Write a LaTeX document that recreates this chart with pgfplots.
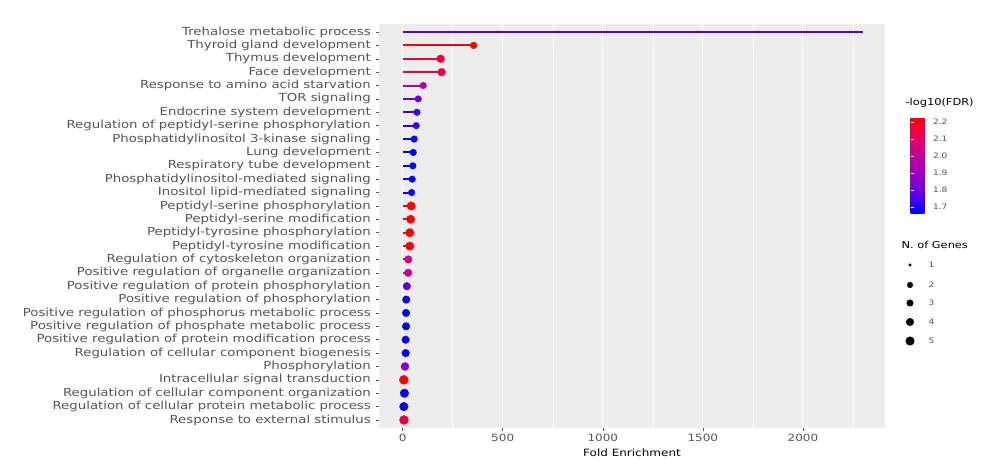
\documentclass[border=0pt]{standalone}
\usepackage{fontspec}
\setmainfont{DejaVu Sans}[FakeStretch=1.2]
\usepackage{pgfplots}
\usepackage{pgfplotstable}
\pgfplotsset{compat=1.18}
\definecolor{g30}{RGB}{85,85,85}
\definecolor{panelbg}{RGB}{237,237,237}
\pgfplotsset{colormap={br}{rgb255=(0,0,255) rgb255=(115,0,225) rgb255=(175,0,175) rgb255=(225,0,110) rgb255=(255,0,0)}}
\pgfplotstableread{
y x c n r
0 2295 1.76 1 1.0
1 355 2.22 2 3.4
2 190 2.15 3 3.9
3 195 2.15 3 3.9
4 103 1.95 2 3.3
5 78 1.80 2 3.3
6 72 1.74 2 3.3
7 68 1.73 2 3.3
8 58 1.68 2 3.3
9 53 1.67 2 3.3
10 51 1.67 2 3.3
11 48 1.67 2 3.3
12 45 1.67 2 3.3
13 43 2.22 4 4.2
14 40 2.22 4 4.2
15 36 2.22 4 4.2
16 36 2.22 4 4.2
17 28 2.05 3 3.8
18 28 2.02 3 3.8
19 21 1.78 3 3.8
20 18 1.68 3 3.8
21 17 1.67 3 3.8
22 17 1.67 3 3.8
23 15 1.67 3 3.8
24 15 1.67 3 3.8
25 12 1.85 3 4.0
26 6 2.22 5 4.5
27 9 1.68 4 4.3
28 6 1.68 4 4.3
29 7 2.15 5 4.5
}\data
\begin{document}
\begin{tikzpicture}
\pgfplotsinvokeforeach{0,...,29}{
  \pgfplotstablegetelem{#1}{c}\of\data
  \pgfplotscolormapaccess[1.665:2.23]{\pgfplotsretval}{br}
  \xglobal\definecolor{stem#1}{rgb}{\pgfmathresult}
}
\path[use as bounding box] (-379bp,24bp) rectangle (607bp,-442bp);
\begin{axis}[
  at={(0,0)}, anchor=north west,
  scale only axis, width=506bp, height=404bp,
  xmin=-118, xmax=2410,
  ymin=-0.6, ymax=29.6, y dir=reverse,
  axis background/.style={fill=panelbg},
  axis line style={draw=none},
  tick pos=left, tick align=outside,
  major tick length=3bp,
  tick style={g30, line width=0.5pt},
  xtick={0,500,1000,1500,2000},
  minor xtick={250,750,1250,1750,2250},
  ytick={0,...,29},
  yticklabels={Trehalose metabolic process,Thyroid gland development,Thymus development,Face development,Response to amino acid starvation,TOR signaling,Endocrine system development,Regulation of peptidyl-serine phosphorylation,Phosphatidylinositol 3-kinase signaling,Lung development,Respiratory tube development,Phosphatidylinositol-mediated signaling,Inositol lipid-mediated signaling,Peptidyl-serine phosphorylation,Peptidyl-serine modification,Peptidyl-tyrosine phosphorylation,Peptidyl-tyrosine modification,Regulation of cytoskeleton organization,Positive regulation of organelle organization,Positive regulation of protein phosphorylation,Positive regulation of phosphorylation,Positive regulation of phosphorus metabolic process,Positive regulation of phosphate metabolic process,Positive regulation of protein modification process,Regulation of cellular component biogenesis,Phosphorylation,Intracellular signal transduction,Regulation of cellular component organization,Regulation of cellular protein metabolic process,Response to external stimulus},
  yticklabel style={font=\fontsize{11.1bp}{11.5bp}\selectfont, text=g30, inner sep=2bp, xshift=-3bp},
  xticklabel style={font=\fontsize{10bp}{11bp}\selectfont, text=g30},
  /pgf/number format/assume math mode=true,
  /pgf/number format/1000 sep={},
  xmajorgrids, xminorgrids,
  major grid style={white, line width=0.9pt},
  minor grid style={white, line width=0.45pt},
  minor tick length=0pt,
  colormap name=br,
  point meta min=1.665, point meta max=2.23,
  colorbar,
  colorbar style={
    at={(parent axis.north east)}, anchor=north west, xshift=17bp, yshift=-93bp,
    scale only axis, width=19bp, height=96bp,
    axis line style={draw=none},
    ytick={1.7,1.8,1.9,2.0,2.1,2.2},
    major tick length=3.5bp, tick style={white, line width=0.6pt}, tick align=inside,
    yticklabel style={font=\fontsize{7.5bp}{8bp}\selectfont, text=g30,
      /pgf/number format/assume math mode=true,
      /pgf/number format/fixed, /pgf/number format/precision=1, /pgf/number format/fixed zerofill},
  },
  clip=false,
]
\pgfplotsinvokeforeach{0,...,29}{
  \pgfplotstablegetelem{#1}{x}\of\data \let\xv\pgfplotsretval
  \edef\temp{\noexpand\addplot[draw=stem#1, line width=2pt, forget plot] coordinates {(0,#1) (\xv,#1)};}
  \temp
}
\addplot[scatter, only marks, mark=*, point meta=\thisrow{c},
  scatter/use mapped color={draw=mapped color, fill=mapped color},
  visualization depends on={\thisrow{r} \as \rad},
  scatter/@pre marker code/.append style={/tikz/mark size=\rad}] table[x=x, y=y] {\data};
\end{axis}
\node[font=\fontsize{10bp}{11bp}\selectfont, text=black] at (253bp,-429bp) {Fold Enrichment};
\begin{axis}[
  at={(516bp,-350bp)}, anchor=south west,
  scale only axis, width=80bp, height=280bp,
  xmin=0, xmax=80, ymin=0, ymax=280,
  hide axis, clip=false,
]
\addplot[scatter, only marks, mark=*, point meta=\thisrow{n},
  scatter/use mapped color={draw=black, fill=black},
  visualization depends on={\thisrow{r} \as \rad},
  scatter/@pre marker code/.append style={/tikz/mark size=\rad}] table {
x y n r
15 109 1 1.3
15 89 2 2.8
15 71 3 3.3
15 52 4 3.8
15 33 5 4.3
};
\node[anchor=west, font=\fontsize{9.5bp}{10bp}\selectfont] at (axis cs:7,271) {-log10(FDR)};
\node[anchor=west, font=\fontsize{9.5bp}{10bp}\selectfont] at (axis cs:3,129) {N. of Genes};
\node[anchor=west, font=\fontsize{7.5bp}{8bp}\selectfont, text=g30] at (axis cs:30,109) {1};
\node[anchor=west, font=\fontsize{7.5bp}{8bp}\selectfont, text=g30] at (axis cs:30,89) {2};
\node[anchor=west, font=\fontsize{7.5bp}{8bp}\selectfont, text=g30] at (axis cs:30,71) {3};
\node[anchor=west, font=\fontsize{7.5bp}{8bp}\selectfont, text=g30] at (axis cs:30,52) {4};
\node[anchor=west, font=\fontsize{7.5bp}{8bp}\selectfont, text=g30] at (axis cs:30,33) {5};
\end{axis}
\end{tikzpicture}
\end{document}
